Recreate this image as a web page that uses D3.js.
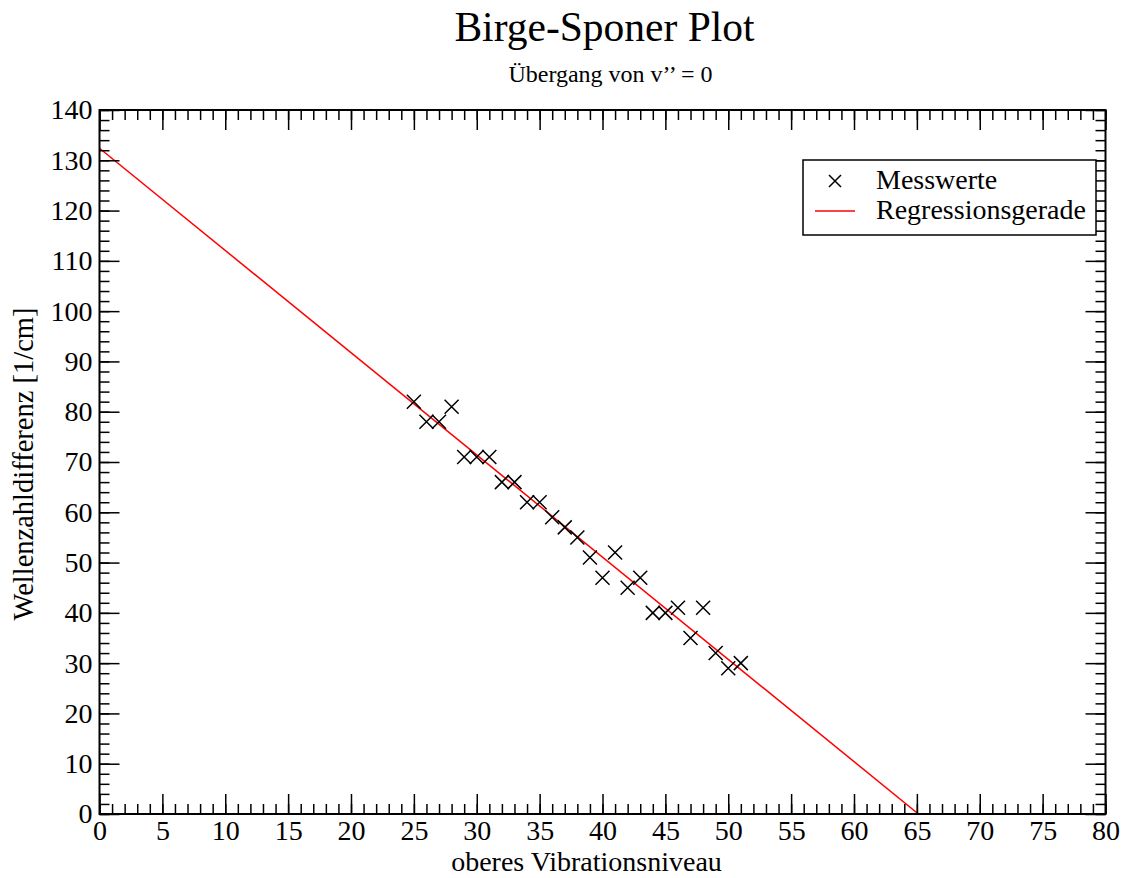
<!DOCTYPE html>
<html>
<head>
<meta charset="utf-8">
<script src="https://cdn.jsdelivr.net/npm/d3@7/dist/d3.min.js"></script>
<style>
  body { margin: 0; padding: 0; background: #fff; }
  text { font-family: "Liberation Serif", "DejaVu Serif", serif; fill: #000; }
</style>
</head>
<body>
<svg id="chart" width="1127" height="878"></svg>
<script>
// measured points: upper vibrational level vs. wavenumber difference
var niveau = [25, 26, 27, 28, 29, 30, 31, 32, 33, 34, 35, 36, 37, 38, 39,
              40, 41, 42, 43, 44, 45, 46, 47, 48, 49, 50, 51];
var differenz = [82, 78, 78, 81, 71, 71, 71, 66, 66, 62, 62, 59, 57, 55, 51,
                 47, 52, 45, 47, 40, 40, 41, 35, 41, 32, 29, 30];
var xTicks = [0, 5, 10, 15, 20, 25, 30, 35, 40, 45, 50, 55, 60, 65, 70, 75, 80];
var yTicks = [0, 10, 20, 30, 40, 50, 60, 70, 80, 90, 100, 110, 120, 130, 140];
var legendLabels = ["Messwerte", "Regressionsgerade"];

var pLeft = 99.5, pRight = 1105.5, pTop = 110, pBottom = 814;

var svg = d3.select("#chart");
var x = d3.scaleLinear().domain([0, 80]).range([pLeft, pRight]);
var y = d3.scaleLinear().domain([0, 140]).range([pBottom, pTop]);

// least squares fit
var n = niveau.length;
var mx = d3.mean(niveau), my = d3.mean(differenz);
var sxy = 0, sxx = 0;
for (var i = 0; i < n; i++) {
  sxy += (niveau[i] - mx) * (differenz[i] - my);
  sxx += (niveau[i] - mx) * (niveau[i] - mx);
}
var slope = sxy / sxx;
var intercept = my - slope * mx;
var xEnd = Math.min(80, -intercept / slope);

svg.append("clipPath").attr("id", "clip")
  .append("rect").attr("x", pLeft).attr("y", pTop)
  .attr("width", pRight - pLeft).attr("height", pBottom - pTop);

svg.append("line")
  .attr("clip-path", "url(#clip)")
  .attr("x1", x(0)).attr("y1", y(intercept))
  .attr("x2", x(xEnd)).attr("y2", y(intercept + slope * xEnd))
  .attr("stroke", "#ff0000").attr("stroke-width", 1.5);

// crosses
var s = 7;
var pts = svg.append("g").selectAll("g").data(niveau).enter().append("g")
  .attr("transform", function (d, i) { return "translate(" + x(d) + "," + y(differenz[i]) + ")"; });
pts.append("path")
  .attr("d", "M" + (-s) + "," + (-s) + "L" + s + "," + s + "M" + (-s) + "," + s + "L" + s + "," + (-s))
  .attr("stroke", "#000").attr("stroke-width", 1.5).attr("fill", "none");

// axes with inward ticks on all four sides
var minorX = d3.range(0, 81, 1);
var minorY = d3.range(0, 141, 2);
function styleAxis(g) {
  g.select(".domain").remove();
  g.selectAll("line").attr("stroke", "#000").attr("stroke-width", 1.5);
}
svg.append("g").attr("transform", "translate(0," + pBottom + ")")
  .call(d3.axisBottom(x).tickValues(minorX).tickSize(-10).tickFormat(""))
  .call(styleAxis);
svg.append("g").attr("transform", "translate(0," + pBottom + ")")
  .call(d3.axisBottom(x).tickValues(xTicks).tickSize(-20).tickPadding(0).tickFormat(d3.format("d")))
  .call(styleAxis)
  .selectAll("text").attr("font-size", 28).attr("font-family", "Liberation Serif").attr("dy", "0.93em");
svg.append("g").attr("transform", "translate(0," + pTop + ")")
  .call(d3.axisTop(x).tickValues(minorX).tickSize(-10).tickFormat(""))
  .call(styleAxis);
svg.append("g").attr("transform", "translate(0," + pTop + ")")
  .call(d3.axisTop(x).tickValues(xTicks).tickSize(-20).tickFormat(""))
  .call(styleAxis);

svg.append("g").attr("transform", "translate(" + pLeft + ",0)")
  .call(d3.axisLeft(y).tickValues(minorY).tickSize(-10).tickFormat(""))
  .call(styleAxis);
svg.append("g").attr("transform", "translate(" + pLeft + ",0)")
  .call(d3.axisLeft(y).tickValues(yTicks).tickSize(-20).tickPadding(7).tickFormat(d3.format("d")))
  .call(styleAxis)
  .selectAll("text").attr("font-size", 28).attr("font-family", "Liberation Serif");
svg.append("g").attr("transform", "translate(" + pRight + ",0)")
  .call(d3.axisRight(y).tickValues(minorY).tickSize(-10).tickFormat(""))
  .call(styleAxis);
svg.append("g").attr("transform", "translate(" + pRight + ",0)")
  .call(d3.axisRight(y).tickValues(yTicks).tickSize(-20).tickFormat(""))
  .call(styleAxis);

svg.append("rect")
  .attr("x", pLeft).attr("y", pTop).attr("width", pRight - pLeft).attr("height", pBottom - pTop)
  .attr("fill", "none").attr("stroke", "#000").attr("stroke-width", 2);

// titles
var cx = (pLeft + pRight) / 2;
svg.append("text").attr("x", cx + 2).attr("y", 41).attr("text-anchor", "middle")
  .attr("font-size", 41.5).text("Birge-Sponer Plot");
svg.append("text").attr("x", cx + 8).attr("y", 82).attr("text-anchor", "middle")
  .attr("font-size", 24).text("Übergang von v’’ = 0");
svg.append("text").attr("x", cx - 16).attr("y", 871).attr("text-anchor", "middle")
  .attr("font-size", 28).text("oberes Vibrationsniveau");
svg.append("text").attr("transform", "translate(33," + 464 + ") rotate(-90)")
  .attr("text-anchor", "middle").attr("font-size", 28.5).text("Wellenzahldifferenz [1/cm]");

// legend
var lg = svg.append("g");
lg.append("rect").attr("x", 803).attr("y", 160).attr("width", 293).attr("height", 75)
  .attr("fill", "#fff").attr("stroke", "#000").attr("stroke-width", 1.5);
var ls = 6;
lg.append("path")
  .attr("d", "M" + (835 - ls) + "," + (181 - ls) + "L" + (835 + ls) + "," + (181 + ls) +
             "M" + (835 - ls) + "," + (181 + ls) + "L" + (835 + ls) + "," + (181 - ls))
  .attr("stroke", "#000").attr("stroke-width", 1.5);
lg.append("line").attr("x1", 815).attr("x2", 855).attr("y1", 211).attr("y2", 211)
  .attr("stroke", "#ff0000").attr("stroke-width", 1.5);
lg.selectAll("text.leg").data(legendLabels).enter().append("text")
  .attr("class", "leg")
  .attr("x", 876).attr("y", function (d, i) { return 189 + i * 30; })
  .attr("font-size", 28).text(function (d) { return d; });
</script>
</body>
</html>
